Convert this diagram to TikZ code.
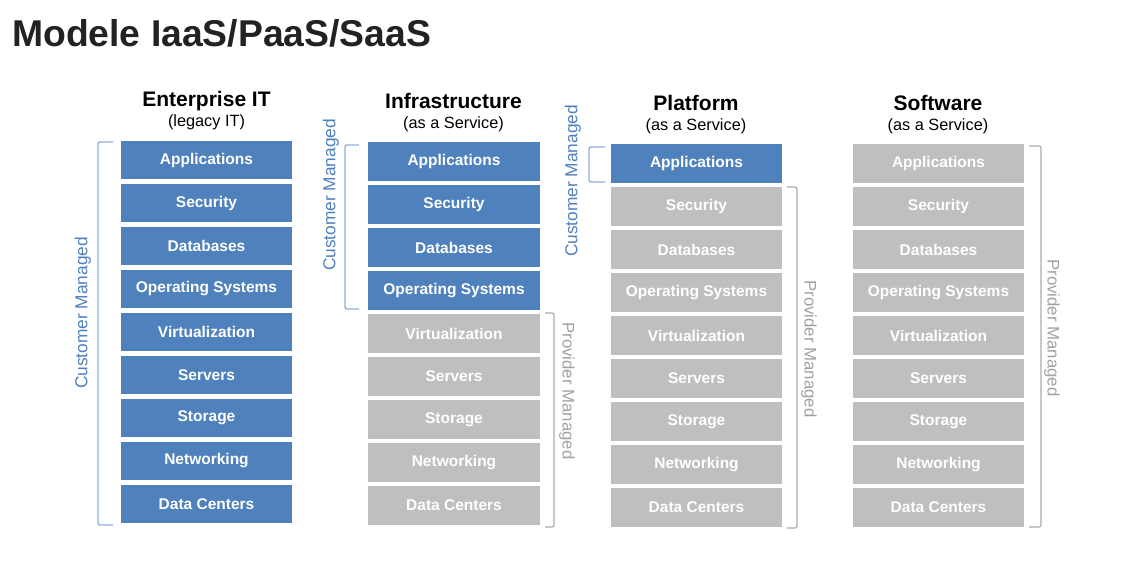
\documentclass[tikz,border=0pt]{standalone}
\usepackage{fontspec}
\setmainfont{Liberation Sans}
\usetikzlibrary{calc}
\definecolor{cblue}{HTML}{4F81BD}
\definecolor{cgray}{HTML}{BFBFBF}
\definecolor{brblue}{HTML}{8FB1DC}
\definecolor{lblblue}{HTML}{4F81BD}
\definecolor{brgray}{HTML}{ABABAB}
\definecolor{lblgray}{HTML}{A2A2A2}
\definecolor{titlec}{HTML}{222222}
\tikzset{
  layer/.style={minimum width=171pt,minimum height=38.5pt,inner sep=0pt,text=white,
    font=\fontsize{15.5}{18}\selectfont\bfseries},
  cust/.style={layer,fill=cblue},
  prov/.style={layer,fill=cgray},
  hdr/.style={anchor=base,font=\fontsize{21}{24}\selectfont\bfseries,text=black},
  sub/.style={anchor=base,font=\fontsize{16.3}{19}\selectfont,text=black},
  bcust/.style={draw=brblue,line width=1.4pt,rounded corners=2pt},
  bprov/.style={draw=brgray,line width=1.2pt,rounded corners=2pt},
  lcust/.style={font=\fontsize{17.3}{20}\selectfont,text=lblblue,rotate=90},
  lprov/.style={font=\fontsize{16.8}{20}\selectfont,text=lblgray,rotate=-90}
}
\begin{document}
\begin{tikzpicture}[x=1pt,y=-1pt]
\useasboundingbox[fill=white] (0,0) rectangle (1125,585);
\node[anchor=base west,font=\fontsize{37.3}{44}\selectfont\bfseries,text=titlec,inner sep=0pt] (title) at (12,47) {Modele IaaS/PaaS/SaaS};

% headers
\node[hdr] (h1) at (206.5,107) {Enterprise IT};
\node[sub] (s1) at (206.5,127) {(legacy IT)};
\node[hdr] (h2) at (453.5,109) {Infrastructure};
\node[sub] (s2) at (453.5,129) {(as a Service)};
\node[hdr] (h3) at (696,111) {Platform};
\node[sub] (s3) at (696,131) {(as a Service)};
\node[hdr] (h4) at (938,111) {Software};
\node[sub] (s4) at (938,131) {(as a Service)};

% column 1: Enterprise IT
\foreach \t [count=\i from 0] in {Applications,Security,Databases,Operating Systems,Virtualization,Servers,Storage,Networking,Data Centers}{
  \node[cust] (a\i) at (206.5,{160+43*\i}) {\t};
}
% column 2: IaaS
\foreach \t [count=\i from 0] in {Applications,Security,Databases,Operating Systems}{
  \node[cust,minimum width=172pt] (b\i) at (454,{161.5+43*\i}) {\t};
}
\foreach \t [count=\i from 4] in {Virtualization,Servers,Storage,Networking,Data Centers}{
  \node[prov,minimum width=172pt] (b\i) at (454,{161.5+43*\i}) {\t};
}
% column 3: PaaS
\node[cust] (c0) at (696.5,163.5) {Applications};
\foreach \t [count=\i from 1] in {Security,Databases,Operating Systems,Virtualization,Servers,Storage,Networking,Data Centers}{
  \node[prov] (c\i) at (696.5,{163.5+43*\i}) {\t};
}
% column 4: SaaS
\foreach \t [count=\i from 0] in {Applications,Security,Databases,Operating Systems,Virtualization,Servers,Storage,Networking,Data Centers}{
  \node[prov] (d\i) at (938.5,{163.5+43*\i}) {\t};
}

% brackets
\draw[bcust] (113,142) -- (98,142) -- (98,525) -- (113,525);
\node[lcust] (l1) at (83,313) {Customer Managed};

\draw[bcust] (359,145) -- (345,145) -- (345,309) -- (359,309);
\node[lcust] (l2) at (331,195) {Customer Managed};
\draw[bprov] (545,313) -- (554,313) -- (554,527) -- (545,527);
\node[lprov] (l3) at (567,391) {Provider Managed};

\draw[bcust] (605,147) -- (589,147) -- (589,182) -- (605,182);
\node[lcust] (l4) at (573,181) {Customer Managed};
\draw[bprov] (787,187) -- (797,187) -- (797,528) -- (787,528);
\node[lprov] (l5) at (809,349) {Provider Managed};

\draw[bprov] (1029,146) -- (1041,146) -- (1041,527) -- (1029,527);
\node[lprov] (l6) at (1052,328) {Provider Managed};
\end{tikzpicture}
\end{document}
